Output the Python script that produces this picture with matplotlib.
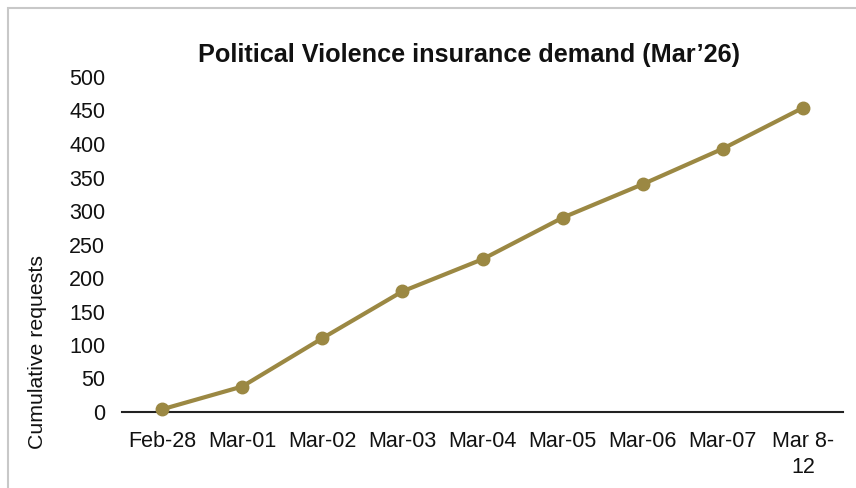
import matplotlib
matplotlib.use("Agg")
import matplotlib.pyplot as plt
from matplotlib.patches import Rectangle

categories = ["Feb-28", "Mar-01", "Mar-02", "Mar-03", "Mar-04", "Mar-05", "Mar-06", "Mar-07", "Mar 8-\n12"]
values = [4, 38, 110, 180, 228, 290, 340, 393, 454]
yticks = [0, 50, 100, 150, 200, 250, 300, 350, 400, 450, 500]

plt.rcParams['font.family'] = ['Liberation Sans', 'DejaVu Sans']

W, H = 856, 488
fig = plt.figure(figsize=(W / 100, H / 100), dpi=100)
fig.patch.set_facecolor("white")

# outer border
fig.patches.append(Rectangle((8 / W, -0.05), 1.1, (H - 8) / H + 0.05, transform=fig.transFigure,
                             fill=False, edgecolor="#C8C8C8", linewidth=1.5))

ax = fig.add_axes([122 / W, 1 - 412 / H, (843 - 122) / W, (412 - 77) / H])
x = list(range(len(categories)))
color = "#9B8843"
ax.plot(x, values, color=color, linewidth=3.0, marker="o", markersize=9,
        markerfacecolor=color, markeredgecolor=color, solid_capstyle="round", clip_on=False, zorder=3)

ax.set_xlim(-0.5, len(categories) - 0.5)
ax.set_ylim(0, 500)
ax.set_yticks(yticks)
ax.set_yticklabels([str(v) for v in yticks], fontsize=15.5, color="#111111")
ax.set_xticks(x)
ax.set_xticklabels(categories, fontsize=15.5, color="#111111", linespacing=1.27)
ax.tick_params(axis="both", length=0)
ax.tick_params(axis="x", pad=14)
ax.tick_params(axis="y", pad=12)
for s in ["left", "right", "top"]:
    ax.spines[s].set_visible(False)
ax.spines["bottom"].set_color("#222222")
ax.spines["bottom"].set_linewidth(1.5)
ax.spines["bottom"].set_zorder(2)

fig.text(469 / W, 1 - 55 / H, "Political Violence insurance demand (Mar\u201926)",
         ha="center", va="center", fontsize=18.2, fontweight="bold", color="#111111")
fig.text(38 / W, 1 - 352 / H, "Cumulative requests", rotation=90, ha="center", va="center",
         fontsize=15.3, color="#111111")

fig.savefig("out.png", dpi=100, facecolor="white")
